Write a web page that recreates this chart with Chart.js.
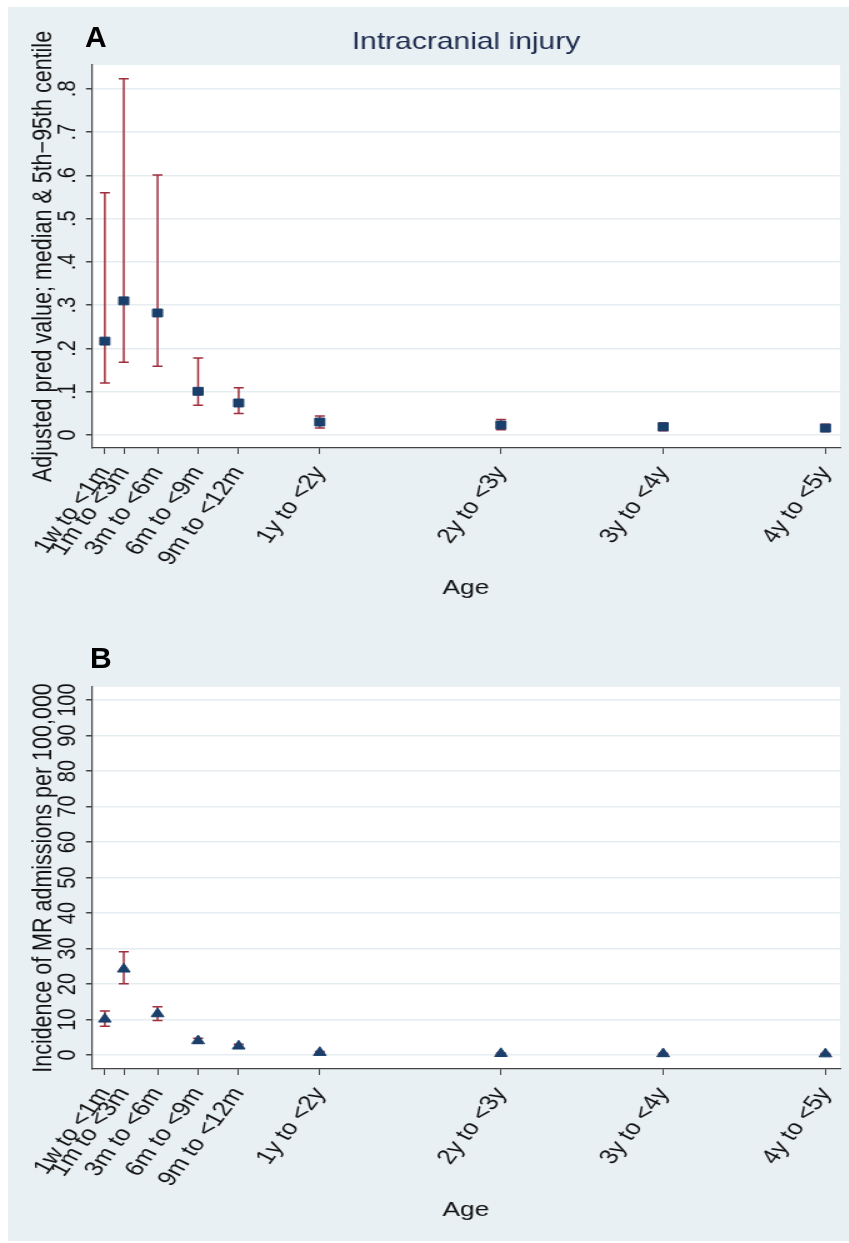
<!DOCTYPE html>
<html>
<head>
<meta charset="utf-8">
<script src="https://cdn.jsdelivr.net/npm/chart.js@4"></script>
<style>
  body { margin: 0; width: 849px; height: 1243px; background: #fff; position: relative; overflow: hidden; font-family: "Liberation Sans", Arial, sans-serif; }
  #bg { position: absolute; left: 8px; top: 7px; width: 841px; height: 1234px; background: #e9f0f3; }
  .panel { position: absolute; left: 0; width: 680px; transform: scaleX(1.25); transform-origin: 0 0; }
  .letter { position: absolute; font: bold 30px/30px "Liberation Sans", Arial, sans-serif; color: #000; }
</style>
</head>
<body>
<div id="bg"></div>
<div class="panel" style="top:0"><canvas id="chartA" width="680" height="621"></canvas></div>
<div class="panel" style="top:621px"><canvas id="chartB" width="680" height="622"></canvas></div>
<div class="letter" style="left:85px;top:22px">A</div>
<div class="letter" style="left:90px;top:643px">B</div>
<script>
// age groups and where they sit on the age axis (months)
const ageLabels = ['1w to <1m', '1m to <3m', '3m to <6m', '6m to <9m', '9m to <12m', '1y to <2y', '2y to <3y', '3y to <4y', '4y to <5y'];
const agePos = [0.7, 2.1, 4.6, 7.6, 10.6, 16.6, 30, 42, 54];

// panel A: adjusted predicted value, median with 5th-95th centile
const injuryMedian = [0.217, 0.31, 0.282, 0.101, 0.074, 0.03, 0.023, 0.019, 0.016];
const injuryLow = [0.12, 0.168, 0.159, 0.069, 0.05, 0.016, 0.012, 0.01, 0.008];
const injuryHigh = [0.56, 0.823, 0.601, 0.178, 0.109, 0.044, 0.036, 0.028, 0.025];
const injuryTicks = [0, 0.1, 0.2, 0.3, 0.4, 0.5, 0.6, 0.7, 0.8];

// panel B: incidence of MR admissions per 100,000
const mrRate = [10.1, 24.2, 11.6, 4.0, 2.5, 0.7, 0.4, 0.35, 0.3];
const mrLow = [8.1, 20.1, 9.7, 3.3, 2.0, 0.4, 0.2, 0.2, 0.15];
const mrHigh = [12.4, 29.1, 13.6, 4.7, 3.0, 1.0, 0.6, 0.5, 0.45];
const mrTicks = [0, 10, 20, 30, 40, 50, 60, 70, 80, 90, 100];

const NAVY = '#1a3f6b';
const MAROON = '#9e2f3c';
const INK = '#111111';

Chart.defaults.font.family = '"Liberation Sans", Arial, sans-serif';

// white plot region on the tinted graph region
const plotBg = {
  id: 'plotBg',
  beforeDraw(chart) {
    const { ctx, chartArea: a } = chart;
    ctx.save();
    ctx.fillStyle = '#ffffff';
    ctx.fillRect(a.left, a.top, a.right - a.left, a.bottom - a.top);
    ctx.restore();
  }
};

// capped range bars, drawn under the markers
const errorBars = {
  id: 'errorBars',
  beforeDatasetsDraw(chart, args, opts) {
    const { ctx, scales: { x, y } } = chart;
    ctx.save();
    ctx.strokeStyle = MAROON;
    ctx.lineWidth = 1.5;
    opts.low.forEach((lo, i) => {
      const px = x.getPixelForValue(agePos[i]);
      const y1 = y.getPixelForValue(lo);
      const y2 = y.getPixelForValue(opts.high[i]);
      ctx.beginPath();
      ctx.moveTo(px, y1); ctx.lineTo(px, y2);
      ctx.moveTo(px - 4, y1); ctx.lineTo(px + 4, y1);
      ctx.moveTo(px - 4, y2); ctx.lineTo(px + 4, y2);
      ctx.stroke();
    });
    ctx.restore();
  }
};

// title centred over the plot region
const topTitle = {
  id: 'topTitle',
  afterDraw(chart, args, opts) {
    if (!opts.text) return;
    const { ctx, chartArea: a } = chart;
    ctx.save();
    ctx.font = '24px "Liberation Sans", Arial, sans-serif';
    ctx.fillStyle = '#1c2a4d';
    ctx.textAlign = 'center';
    ctx.textBaseline = 'alphabetic';
    ctx.fillText(opts.text, (a.left + a.right) / 2, 49);
    ctx.restore();
  }
};

function panel(id, o) {
  return new Chart(document.getElementById(id), {
    type: 'scatter',
    data: {
      datasets: [{
        data: agePos.map((x, i) => ({ x, y: o.values[i] })),
        pointStyle: o.marker,
        radius: o.radius,
        backgroundColor: NAVY,
        borderColor: NAVY,
        borderWidth: 1
      }]
    },
    options: {
      responsive: false,
      animation: false,
      layout: { padding: { left: 14, right: 8, top: o.top, bottom: 20 } },
      plugins: {
        legend: { display: false },
        tooltip: { enabled: false },
        errorBars: { low: o.low, high: o.high },
        topTitle: { text: o.title }
      },
      scales: {
        x: {
          type: 'linear',
          min: -0.25,
          max: 55.08,
          afterBuildTicks: s => { s.ticks = agePos.map(v => ({ value: v })); },
          afterFit: s => { s.height = o.xHeight; s.paddingLeft = 0; s.paddingRight = 0; },
          ticks: {
            autoSkip: false, minRotation: 58, maxRotation: 58, padding: 8,
            color: INK, font: { size: 21 },
            callback: (v, i) => ageLabels[i]
          },
          grid: { drawOnChartArea: false, tickColor: '#444', tickLength: 6 },
          border: { color: '#444', width: 1.2 },
          title: { display: true, text: 'Age', color: INK, font: { size: 21 }, padding: { top: 0, bottom: 0 } }
        },
        y: {
          min: o.yMin,
          max: o.yMax,
          afterBuildTicks: s => { s.ticks = o.yTicks.map(v => ({ value: v })); },
          afterFit: s => { s.width = 59.6; s.paddingTop = 0; s.paddingBottom = 0; },
          ticks: {
            minRotation: 90, maxRotation: 90, crossAlign: 'center', padding: o.yPad,
            color: INK, font: { size: 20 }, callback: o.fmt
          },
          grid: { color: '#e6edf1', lineWidth: 1.5, tickColor: '#444', tickLength: 4.8 },
          border: { color: '#444', width: 1.2 },
          title: { display: true, text: o.yTitle, color: INK, font: { size: 21.5 }, padding: { top: 8, bottom: 0 } }
        }
      }
    },
    plugins: [plotBg, errorBars, topTitle]
  });
}

panel('chartA', {
  values: injuryMedian, low: injuryLow, high: injuryHigh,
  marker: 'rect', radius: 5.6, top: 65, xHeight: 153,
  yMin: -0.03, yMax: 0.855, yTicks: injuryTicks, yPad: 6,
  fmt: v => (v === 0 ? '0' : '.' + Math.round(v * 10)),
  yTitle: 'Adjusted pred value; median & 5th\u221295th centile',
  title: 'Intracranial injury'
});

panel('chartB', {
  values: mrRate, low: mrLow, high: mrHigh,
  marker: 'triangle', radius: 5.8, top: 66, xHeight: 154,
  yMin: -3.94, yMax: 103.7, yTicks: mrTicks, yPad: -2.3,
  fmt: v => String(v),
  yTitle: 'Incidence of MR admissions per 100,000',
  title: ''
});
</script>
</body>
</html>
